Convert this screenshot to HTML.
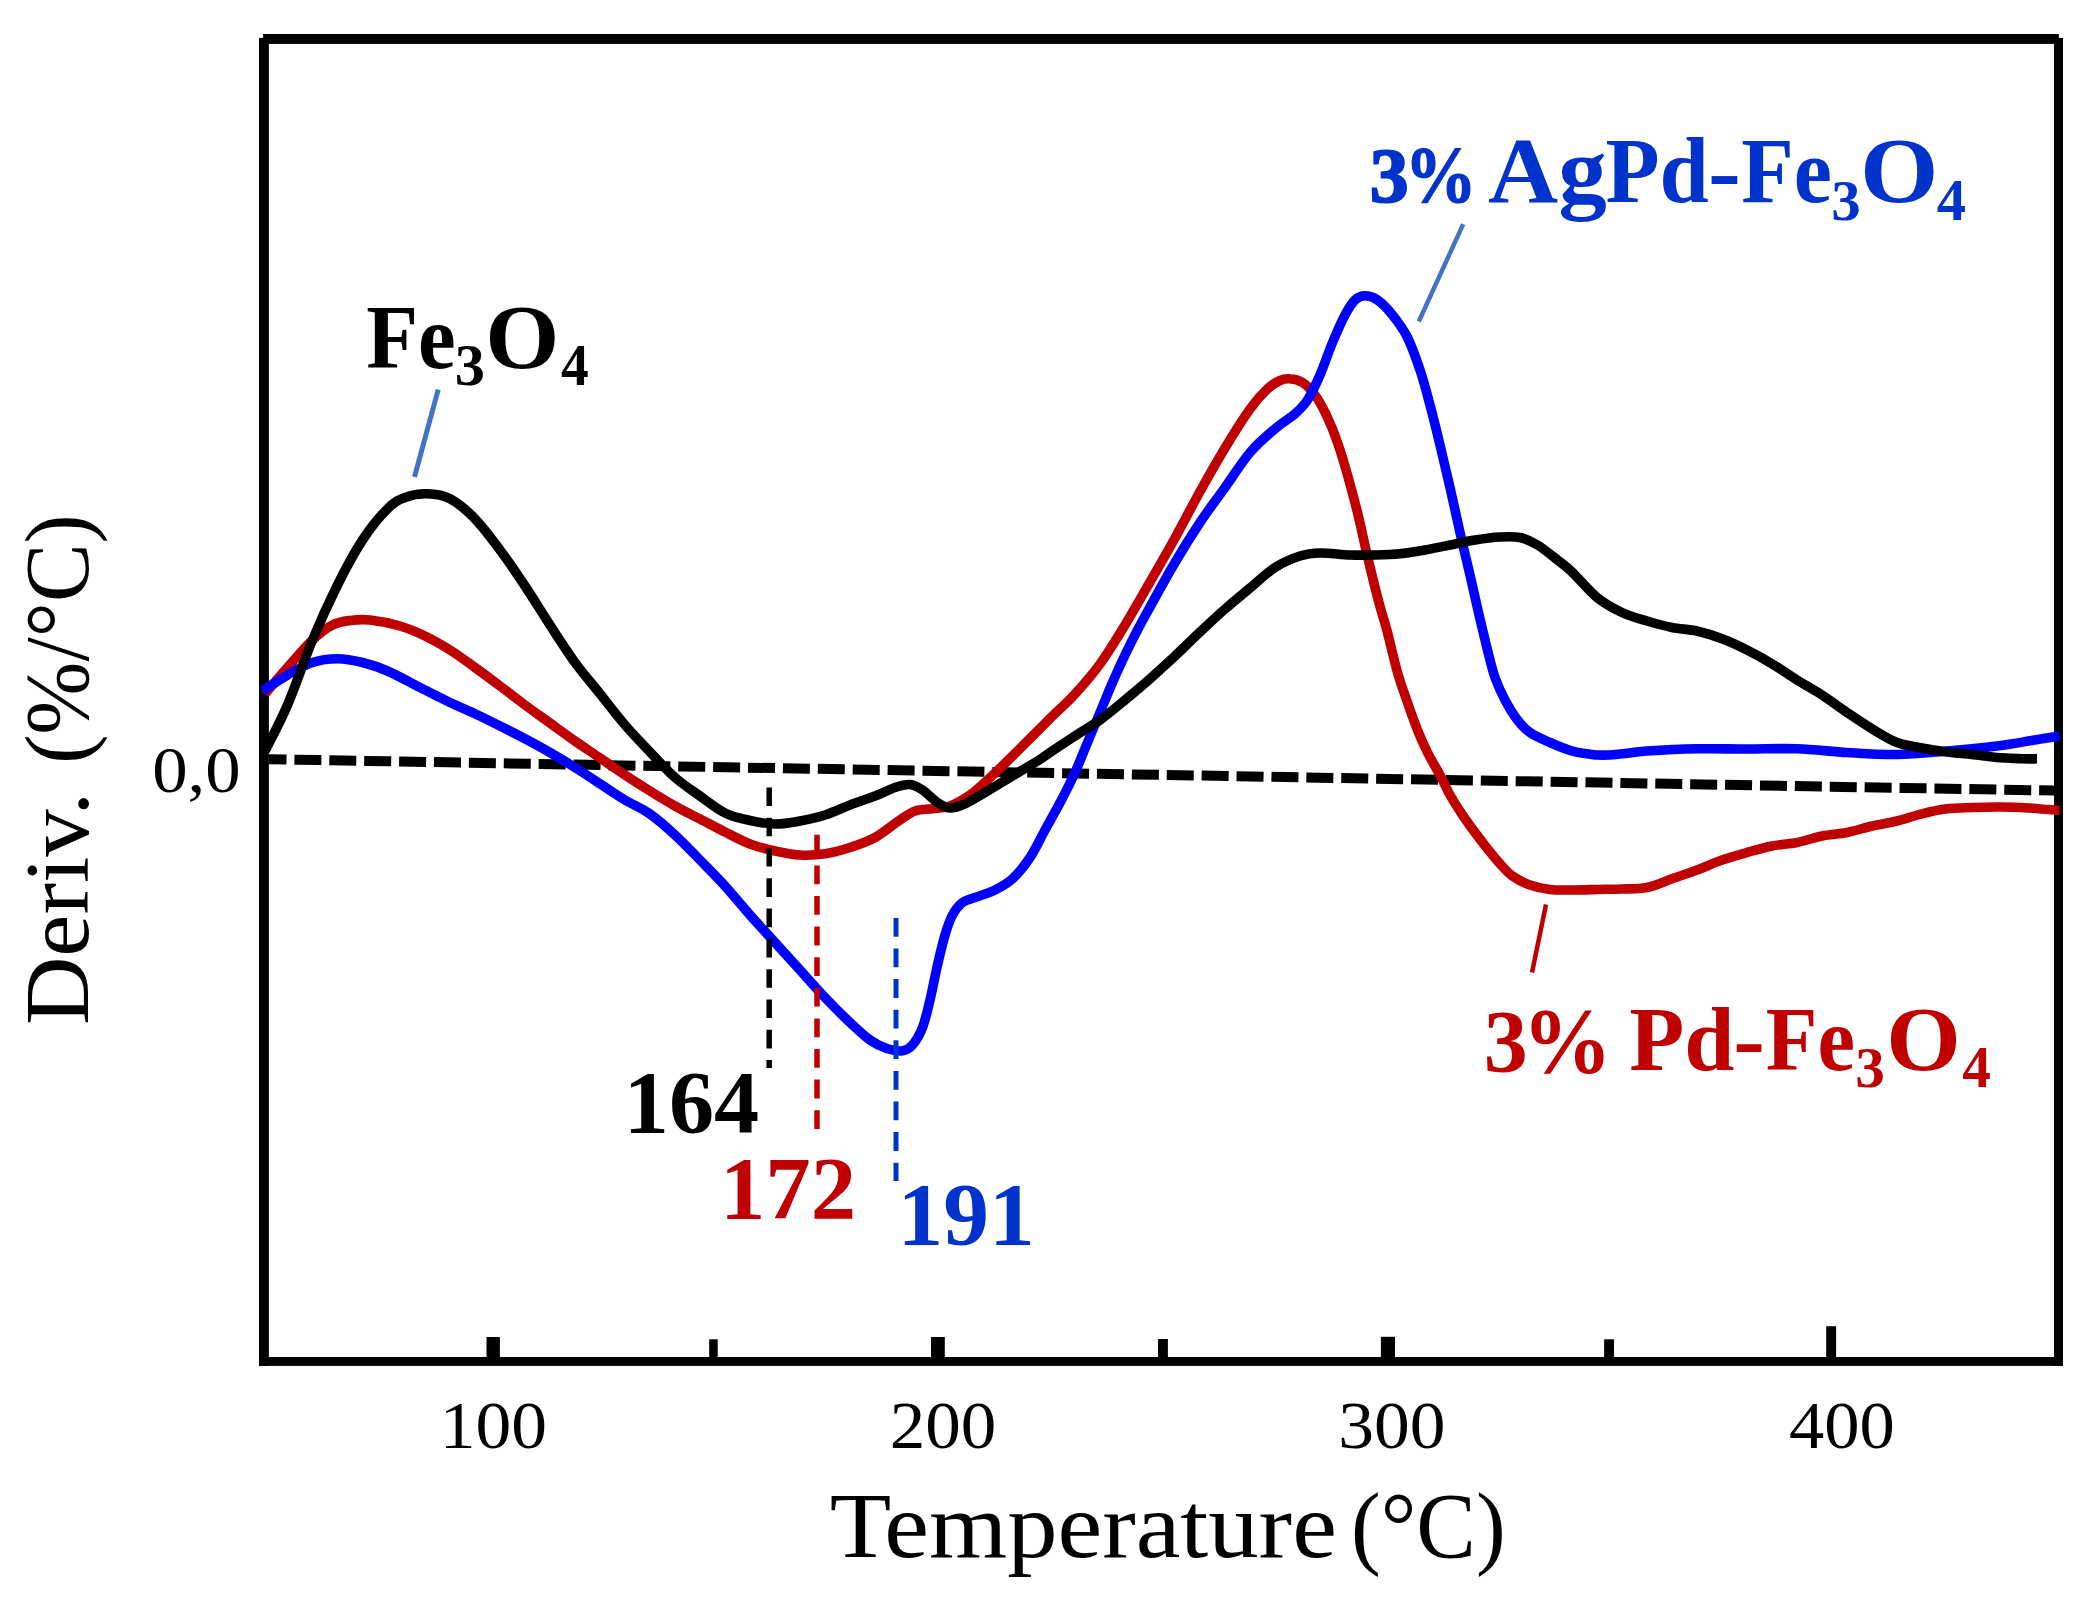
<!DOCTYPE html>
<html lang="en"><head><meta charset="utf-8"><title>DTG curves</title>
<style>
html,body{margin:0;padding:0;background:#fff;overflow:hidden}
svg{display:block}
text{font-family:"Liberation Serif",serif}
</style></head>
<body>
<svg width="2096" height="1605" viewBox="0 0 2096 1605">
<rect width="2096" height="1605" fill="#fff"/>
<g fill="#000"><rect x="263.1" y="34" width="1795.8" height="9.9"/><rect x="259" y="37.9" width="9.9" height="1328"/><rect x="2054" y="38" width="9" height="1327.8"/><rect x="259" y="1357" width="1804" height="8.9"/></g>
<path d="M268.9,759.2 L2054,790.6" stroke="#000" stroke-width="10" stroke-dasharray="27 7.9" stroke-dashoffset="9.4" fill="none"/>
<path d="M265.0,693.8C268.8,689.4 279.6,676.5 287.5,667.5C295.4,658.5 305.0,647.1 312.5,640.0C320.0,632.9 326.2,628.2 332.5,625.0C338.8,621.8 343.8,621.3 350.0,620.5C356.2,619.7 361.7,619.1 370.0,620.0C378.3,620.9 390.8,623.3 400.0,626.0C409.2,628.7 416.7,632.0 425.0,636.0C433.3,640.0 441.7,644.8 450.0,650.0C458.3,655.2 466.7,661.5 475.0,667.5C483.3,673.5 491.7,679.8 500.0,686.0C508.3,692.2 516.7,698.8 525.0,705.0C533.3,711.2 541.7,717.0 550.0,723.0C558.3,729.0 566.7,735.2 575.0,741.0C583.3,746.8 591.7,752.3 600.0,758.0C608.3,763.7 616.7,769.5 625.0,775.0C633.3,780.5 641.7,785.8 650.0,791.0C658.3,796.2 666.7,801.3 675.0,806.0C683.3,810.7 691.7,814.7 700.0,819.0C708.3,823.3 716.7,827.8 725.0,832.0C733.3,836.2 741.7,840.8 750.0,844.0C758.3,847.2 766.7,849.2 775.0,851.0C783.3,852.8 791.7,854.5 800.0,855.0C808.3,855.5 816.7,855.0 825.0,853.8C833.3,852.5 841.7,850.2 850.0,847.5C858.3,844.8 866.7,842.1 875.0,837.5C883.3,832.9 893.3,824.4 900.0,820.0C906.7,815.6 909.6,812.9 915.0,811.0C920.4,809.1 926.7,809.6 932.5,808.8C938.3,807.9 943.8,808.3 950.0,806.0C956.2,803.7 963.8,799.3 970.0,795.0C976.2,790.7 980.4,786.5 987.5,780.0C994.6,773.5 1004.2,764.2 1012.5,756.0C1020.8,747.8 1031.2,737.2 1037.5,731.0C1043.8,724.8 1043.8,724.7 1050.0,718.5C1056.2,712.3 1066.7,703.1 1075.0,694.0C1083.3,684.9 1091.7,675.5 1100.0,664.0C1108.3,652.5 1116.7,638.7 1125.0,625.0C1133.3,611.3 1141.7,596.5 1150.0,582.0C1158.3,567.5 1166.7,553.1 1175.0,538.0C1183.3,522.9 1191.7,506.5 1200.0,491.5C1208.3,476.5 1216.7,461.8 1225.0,448.0C1233.3,434.2 1242.9,418.9 1250.0,409.0C1257.1,399.1 1262.5,393.5 1267.5,388.8C1272.5,384.0 1276.2,382.2 1280.0,380.5C1283.8,378.8 1286.2,378.4 1290.0,378.8C1293.8,379.1 1298.3,379.8 1302.5,382.5C1306.7,385.2 1310.8,389.2 1315.0,395.0C1319.2,400.8 1323.8,409.6 1327.5,417.5C1331.2,425.4 1334.2,432.9 1337.5,442.5C1340.8,452.1 1344.2,463.3 1347.5,475.0C1350.8,486.7 1354.4,500.0 1357.5,512.5C1360.6,525.0 1363.1,537.5 1366.0,550.0C1368.9,562.5 1372.5,577.5 1375.0,587.5C1377.5,597.5 1378.9,602.5 1381.0,610.0C1383.1,617.5 1384.8,622.1 1387.5,632.5C1390.2,642.9 1394.2,660.8 1397.5,672.5C1400.8,684.2 1404.2,692.9 1407.5,702.5C1410.8,712.1 1414.2,721.7 1417.5,730.0C1420.8,738.3 1423.8,745.0 1427.5,752.5C1431.2,760.0 1436.2,767.9 1440.0,775.0C1443.8,782.1 1446.2,788.3 1450.0,795.0C1453.8,801.7 1458.3,808.8 1462.5,815.0C1466.7,821.2 1470.8,826.9 1475.0,832.5C1479.2,838.1 1483.3,843.5 1487.5,848.8C1491.7,854.0 1495.8,859.2 1500.0,863.8C1504.2,868.3 1507.5,872.5 1512.5,876.0C1517.5,879.5 1523.8,882.8 1530.0,885.0C1536.2,887.2 1543.0,888.7 1550.0,889.5C1557.0,890.3 1564.2,890.0 1572.0,890.0C1579.8,890.0 1588.7,889.7 1597.0,889.5C1605.3,889.3 1613.7,889.3 1622.0,889.0C1630.3,888.7 1638.7,889.2 1647.0,887.5C1655.3,885.8 1663.7,881.7 1672.0,878.8C1680.3,875.8 1688.7,873.1 1697.0,870.0C1705.3,866.9 1713.7,862.9 1722.0,860.0C1730.3,857.1 1738.7,854.8 1747.0,852.5C1755.3,850.2 1763.7,847.7 1772.0,846.0C1780.3,844.3 1788.7,844.2 1797.0,842.5C1805.3,840.8 1813.7,837.7 1822.0,836.0C1830.3,834.3 1838.7,834.2 1847.0,832.5C1855.3,830.8 1863.7,827.9 1872.0,826.0C1880.3,824.1 1888.7,823.0 1897.0,821.0C1905.3,819.0 1913.7,815.8 1922.0,813.8C1930.3,811.7 1938.7,809.8 1947.0,808.8C1955.3,807.7 1963.7,807.8 1972.0,807.5C1980.3,807.2 1988.7,807.0 1997.0,807.0C2005.3,807.0 2011.6,806.9 2022.0,807.5C2032.4,808.1 2053.2,810.0 2059.5,810.5" stroke="#C00000" stroke-width="9.6" fill="none" stroke-linejoin="round" stroke-linecap="butt"/>
<path d="M262.5,691.0C266.7,688.3 279.2,679.8 287.5,675.0C295.8,670.2 304.2,665.2 312.5,662.5C320.8,659.8 329.2,658.8 337.5,658.8C345.8,658.8 354.2,660.5 362.5,662.5C370.8,664.5 377.1,666.4 387.5,671.0C397.9,675.6 414.6,684.8 425.0,690.0C435.4,695.2 441.7,698.5 450.0,702.5C458.3,706.5 466.7,709.8 475.0,713.8C483.3,717.7 491.7,721.8 500.0,726.0C508.3,730.2 516.7,734.3 525.0,738.8C533.3,743.2 541.7,747.7 550.0,752.5C558.3,757.3 566.7,762.3 575.0,767.5C583.3,772.7 591.7,778.3 600.0,783.8C608.3,789.2 616.7,795.0 625.0,800.0C633.3,805.0 641.7,808.2 650.0,814.0C658.3,819.8 666.7,827.3 675.0,835.0C683.3,842.7 691.7,851.5 700.0,860.0C708.3,868.5 716.7,876.8 725.0,886.0C733.3,895.2 741.7,905.6 750.0,915.0C758.3,924.4 766.7,933.3 775.0,942.5C783.3,951.7 791.7,960.8 800.0,970.0C808.3,979.2 816.7,988.8 825.0,997.5C833.3,1006.2 842.5,1015.4 850.0,1022.5C857.5,1029.6 863.8,1035.6 870.0,1040.0C876.2,1044.4 882.1,1047.0 887.5,1048.8C892.9,1050.5 898.3,1051.4 902.5,1050.8C906.7,1050.1 909.2,1048.9 912.5,1045.0C915.8,1041.1 919.6,1035.0 922.5,1027.5C925.4,1020.0 927.5,1010.4 930.0,1000.0C932.5,989.6 935.0,975.8 937.5,965.0C940.0,954.2 942.5,943.3 945.0,935.0C947.5,926.7 949.6,920.4 952.5,915.0C955.4,909.6 958.8,905.4 962.5,902.5C966.2,899.6 969.6,899.6 975.0,897.5C980.4,895.4 988.8,893.1 995.0,890.0C1001.2,886.9 1006.7,884.2 1012.5,878.8C1018.3,873.3 1024.6,865.6 1030.0,857.5C1035.4,849.4 1039.6,839.9 1045.0,830.0C1050.4,820.1 1057.5,807.6 1062.5,798.0C1067.5,788.4 1070.8,781.8 1075.0,772.5C1079.2,763.2 1083.3,752.5 1087.5,742.5C1091.7,732.5 1095.8,722.5 1100.0,712.5C1104.2,702.5 1108.3,692.1 1112.5,682.5C1116.7,672.9 1120.8,663.8 1125.0,655.0C1129.2,646.2 1133.3,638.0 1137.5,630.0C1141.7,622.0 1143.8,618.2 1150.0,607.0C1156.2,595.8 1166.7,576.6 1175.0,562.5C1183.3,548.4 1191.7,535.0 1200.0,522.5C1208.3,510.0 1216.7,499.2 1225.0,487.5C1233.3,475.8 1241.7,462.3 1250.0,452.5C1258.3,442.7 1267.5,435.2 1275.0,428.8C1282.5,422.3 1289.6,418.5 1295.0,413.8C1300.4,409.0 1303.3,406.5 1307.5,400.0C1311.7,393.5 1315.8,384.6 1320.0,375.0C1324.2,365.4 1328.3,352.5 1332.5,342.5C1336.7,332.5 1341.2,322.1 1345.0,315.0C1348.8,307.9 1351.7,303.2 1355.0,300.0C1358.3,296.8 1361.2,295.8 1365.0,295.8C1368.8,295.8 1372.9,296.8 1377.5,300.0C1382.1,303.2 1387.5,308.8 1392.5,315.0C1397.5,321.2 1402.9,328.3 1407.5,337.5C1412.1,346.7 1416.2,358.8 1420.0,370.0C1423.8,381.2 1426.7,392.5 1430.0,405.0C1433.3,417.5 1436.7,431.2 1440.0,445.0C1443.3,458.8 1446.7,472.9 1450.0,487.5C1453.3,502.1 1456.7,517.9 1460.0,532.5C1463.3,547.1 1467.2,562.8 1470.0,575.0C1472.8,587.2 1474.1,593.5 1477.0,606.0C1479.9,618.5 1484.5,638.1 1487.5,650.0C1490.5,661.9 1492.1,669.2 1495.0,677.5C1497.9,685.8 1501.2,692.9 1505.0,700.0C1508.8,707.1 1513.3,714.6 1517.5,720.0C1521.7,725.4 1524.6,728.8 1530.0,732.5C1535.4,736.2 1543.0,739.4 1550.0,742.5C1557.0,745.6 1566.2,749.2 1572.0,751.0C1577.8,752.8 1580.8,752.8 1585.0,753.5C1589.2,754.2 1592.9,754.8 1597.0,755.0C1601.1,755.2 1604.8,755.2 1609.5,755.0C1614.2,754.8 1618.8,754.3 1625.0,753.6C1631.2,752.9 1635.0,751.8 1647.0,751.0C1659.0,750.2 1680.3,749.1 1697.0,748.8C1713.7,748.4 1730.3,749.0 1747.0,749.0C1763.7,749.0 1780.3,748.2 1797.0,748.8C1813.7,749.3 1830.3,751.5 1847.0,752.5C1863.7,753.5 1880.3,754.8 1897.0,754.5C1913.7,754.2 1930.3,752.4 1947.0,751.0C1963.7,749.6 1982.4,747.8 1997.0,746.0C2011.6,744.2 2024.1,741.7 2034.5,740.0C2044.9,738.3 2055.3,736.7 2059.5,736.0" stroke="#0000FF" stroke-width="9.6" fill="none" stroke-linejoin="round" stroke-linecap="butt"/>
<path d="M265.0,751.0C268.8,743.3 279.6,723.5 287.5,705.0C295.4,686.5 304.2,660.0 312.5,640.0C320.8,620.0 329.2,601.7 337.5,585.0C345.8,568.3 354.2,552.7 362.5,540.0C370.8,527.3 380.4,515.8 387.5,508.8C394.6,501.7 398.3,500.0 405.0,497.5C411.7,495.0 420.0,493.5 427.5,493.8C435.0,494.0 442.1,494.6 450.0,498.8C457.9,502.9 466.7,510.2 475.0,518.8C483.3,527.3 491.7,538.8 500.0,550.0C508.3,561.2 516.7,573.5 525.0,586.0C533.3,598.5 541.7,612.2 550.0,625.0C558.3,637.8 566.7,651.0 575.0,662.5C583.3,674.0 591.7,683.3 600.0,693.8C608.3,704.2 616.7,715.3 625.0,725.0C633.3,734.7 641.7,743.2 650.0,752.0C658.3,760.8 666.7,770.2 675.0,777.5C683.3,784.8 691.7,790.1 700.0,796.0C708.3,801.9 716.7,808.9 725.0,813.0C733.3,817.1 741.7,818.7 750.0,820.5C758.3,822.3 766.7,823.9 775.0,824.0C783.3,824.1 791.7,822.5 800.0,821.0C808.3,819.5 816.7,817.7 825.0,815.0C833.3,812.3 841.7,808.2 850.0,805.0C858.3,801.8 867.5,798.9 875.0,796.0C882.5,793.1 889.2,789.4 895.0,787.5C900.8,785.6 905.4,784.1 910.0,784.5C914.6,784.9 917.9,787.0 922.5,790.0C927.1,793.0 932.9,799.5 937.5,802.5C942.1,805.5 945.4,807.8 950.0,808.0C954.6,808.2 958.8,806.6 965.0,803.8C971.2,800.9 979.6,795.6 987.5,791.0C995.4,786.4 1004.2,781.0 1012.5,776.0C1020.8,771.0 1031.2,764.9 1037.5,761.0C1043.8,757.1 1043.8,756.7 1050.0,752.5C1056.2,748.3 1066.7,741.4 1075.0,736.0C1083.3,730.6 1091.7,726.0 1100.0,720.0C1108.3,714.0 1116.7,706.9 1125.0,700.0C1133.3,693.1 1141.7,686.1 1150.0,678.8C1158.3,671.4 1166.7,663.8 1175.0,656.0C1183.3,648.2 1191.7,639.8 1200.0,632.0C1208.3,624.2 1216.7,616.3 1225.0,609.0C1233.3,601.7 1241.7,594.9 1250.0,588.0C1258.3,581.1 1266.7,572.8 1275.0,567.5C1283.3,562.2 1292.5,558.4 1300.0,556.0C1307.5,553.6 1311.7,553.2 1320.0,553.0C1328.3,552.8 1340.8,554.7 1350.0,555.0C1359.2,555.3 1366.7,555.2 1375.0,555.0C1383.3,554.8 1391.7,554.6 1400.0,553.8C1408.3,552.9 1416.7,551.5 1425.0,550.0C1433.3,548.5 1441.7,546.7 1450.0,545.0C1458.3,543.3 1466.7,541.3 1475.0,540.0C1483.3,538.7 1492.5,537.4 1500.0,537.0C1507.5,536.6 1513.8,536.2 1520.0,537.5C1526.2,538.8 1531.2,541.2 1537.5,545.0C1543.8,548.8 1551.8,555.5 1557.5,560.0C1563.2,564.5 1565.4,565.8 1572.0,572.0C1578.6,578.2 1588.7,590.8 1597.0,597.5C1605.3,604.2 1613.7,608.6 1622.0,612.5C1630.3,616.4 1638.7,618.5 1647.0,621.0C1655.3,623.5 1663.7,625.8 1672.0,627.5C1680.3,629.2 1688.7,629.1 1697.0,631.0C1705.3,632.9 1713.7,635.6 1722.0,638.8C1730.3,641.9 1738.7,645.8 1747.0,650.0C1755.3,654.2 1763.7,658.8 1772.0,663.8C1780.3,668.8 1788.7,674.8 1797.0,680.0C1805.3,685.2 1813.7,689.6 1822.0,695.0C1830.3,700.4 1838.7,706.9 1847.0,712.5C1855.3,718.1 1863.7,723.8 1872.0,728.8C1880.3,733.8 1888.7,739.3 1897.0,742.5C1905.3,745.7 1913.7,746.4 1922.0,748.0C1930.3,749.6 1938.7,750.9 1947.0,752.0C1955.3,753.1 1963.7,753.6 1972.0,754.5C1980.3,755.4 1988.7,756.8 1997.0,757.5C2005.3,758.2 2015.3,758.5 2022.0,758.8C2028.7,759.0 2034.5,758.8 2037.0,758.8" stroke="#000" stroke-width="9.6" fill="none" stroke-linejoin="round" stroke-linecap="butt"/>
<path d="M769.2,787.4 V1068" stroke="#000" stroke-width="5.5" stroke-dasharray="18.6 11.7" fill="none"/>
<path d="M817,834.8 V1129" stroke="#C00000" stroke-width="5.5" stroke-dasharray="18.8 11.8" fill="none"/>
<path d="M896,917.9 V1181" stroke="#0033CC" stroke-width="5" stroke-dasharray="18.8 11.8" fill="none"/>
<path d="M438.2,389.6 L414.5,477" stroke="#4472C4" stroke-width="5" fill="none"/>
<path d="M1463.2,224.1 L1418.8,321.5" stroke="#4472C4" stroke-width="4.5" fill="none"/>
<path d="M1546,904.5 L1532,972.5" stroke="#C00000" stroke-width="4.5" fill="none"/>
<rect x="486.5" y="1337" width="13.4" height="21.0" fill="#000"/>
<rect x="709.2" y="1339.3" width="8.5" height="18.7" fill="#000"/>
<rect x="931" y="1337" width="13.8" height="21.0" fill="#000"/>
<rect x="1158" y="1339" width="9.9" height="19.0" fill="#000"/>
<rect x="1380.9" y="1336.8" width="14.1" height="21.2" fill="#000"/>
<rect x="1604.1" y="1339.3" width="9.9" height="18.7" fill="#000"/>
<rect x="1826.2" y="1326.2" width="9.9" height="31.8" fill="#000"/>
<text x="439.74" y="1447.6" font-size="68.6" font-weight="normal" fill="#000" textLength="107.27" lengthAdjust="spacingAndGlyphs">100</text>
<text x="889.69" y="1447.6" font-size="68.6" font-weight="normal" fill="#000" textLength="106.60" lengthAdjust="spacingAndGlyphs">200</text>
<text x="1338.27" y="1447.6" font-size="68.6" font-weight="normal" fill="#000" textLength="107.24" lengthAdjust="spacingAndGlyphs">300</text>
<text x="1788.97" y="1447.6" font-size="68.6" font-weight="normal" fill="#000" textLength="105.80" lengthAdjust="spacingAndGlyphs">400</text>
<text x="152.20" y="791.5" font-size="66.5" font-weight="normal" fill="#000" textLength="88.56" lengthAdjust="spacingAndGlyphs">0,0</text>
<text x="623.80" y="1132.1" font-size="89" font-weight="bold" fill="#000" textLength="135.32" lengthAdjust="spacingAndGlyphs">164</text>
<text x="719.96" y="1218.2" font-size="89" font-weight="bold" fill="#C00000" textLength="136.21" lengthAdjust="spacingAndGlyphs">172</text>
<text x="897.40" y="1244.3" font-size="89" font-weight="bold" fill="#0033CC" textLength="137.33" lengthAdjust="spacingAndGlyphs">191</text>
<text xml:space="preserve"><tspan x="829.85" y="1556.6" font-size="93.6" font-weight="normal" fill="#000" textLength="506.96" lengthAdjust="spacingAndGlyphs">Temperature</tspan> <tspan x="1350.99" y="1556.6" font-size="93.6" font-weight="normal" fill="#000" textLength="154.62" lengthAdjust="spacingAndGlyphs">(°C)</tspan></text>
<text transform="translate(87.8,1022) rotate(-90)" xml:space="preserve"><tspan x="-3.13" y="0" font-size="91" font-weight="normal" fill="#000" textLength="233.43" lengthAdjust="spacingAndGlyphs">Deriv.</tspan> <tspan x="258.14" y="0" font-size="91" font-weight="normal" fill="#000" textLength="249.50" lengthAdjust="spacingAndGlyphs">(%/°C)</tspan></text>
<text xml:space="preserve"><tspan x="366.15" y="368.1" font-size="91.6" font-weight="bold" fill="#000" textLength="89.47" lengthAdjust="spacingAndGlyphs">Fe</tspan><tspan x="454.74" y="385.4" font-size="58.6" font-weight="bold" fill="#000" textLength="30.23" lengthAdjust="spacingAndGlyphs">3</tspan><tspan x="485.30" y="368.1" font-size="91.6" font-weight="bold" fill="#000" textLength="74.12" lengthAdjust="spacingAndGlyphs">O</tspan><tspan x="560.97" y="385.3" font-size="59.5" font-weight="bold" fill="#000" textLength="27.73" lengthAdjust="spacingAndGlyphs">4</tspan></text>
<text xml:space="preserve"><tspan x="1369.72" y="201.6" font-size="78.5" font-weight="bold" fill="#0033CC" stroke="#0033CC" stroke-width="2" textLength="38.92" lengthAdjust="spacingAndGlyphs">3</tspan><tspan x="1404.85" y="201.8" font-size="80.5" font-weight="bold" fill="#0033CC" stroke="#0033CC" stroke-width="1.2" textLength="71.96" lengthAdjust="spacingAndGlyphs">%</tspan> <tspan x="1487.97" y="202" font-size="94" font-weight="bold" fill="#0033CC" textLength="118.75" lengthAdjust="spacingAndGlyphs">Ag</tspan><tspan x="1605.52" y="202" font-size="94" font-weight="bold" fill="#0033CC" textLength="103.35" lengthAdjust="spacingAndGlyphs">Pd</tspan><tspan x="1708.14" y="202" font-size="94" font-weight="bold" fill="#0033CC" textLength="32.94" lengthAdjust="spacingAndGlyphs">-</tspan><tspan x="1741.37" y="202" font-size="94" font-weight="bold" fill="#0033CC" textLength="90.58" lengthAdjust="spacingAndGlyphs">Fe</tspan><tspan x="1831.17" y="220.4" font-size="58" font-weight="bold" fill="#0033CC" textLength="29.46" lengthAdjust="spacingAndGlyphs">3</tspan><tspan x="1860.03" y="202" font-size="94" font-weight="bold" fill="#0033CC" textLength="78.46" lengthAdjust="spacingAndGlyphs">O</tspan><tspan x="1936.70" y="220.1" font-size="58.5" font-weight="bold" fill="#0033CC" textLength="29.25" lengthAdjust="spacingAndGlyphs">4</tspan></text>
<text xml:space="preserve"><tspan x="1483.85" y="1071.2" font-size="89.5" font-weight="bold" fill="#C00000" textLength="43.95" lengthAdjust="spacingAndGlyphs">3</tspan><tspan x="1522.36" y="1071.5" font-size="93" font-weight="bold" fill="#C00000" textLength="89.61" lengthAdjust="spacingAndGlyphs">%</tspan> <tspan x="1629.23" y="1069.9" font-size="91.6" font-weight="bold" fill="#C00000" textLength="105.25" lengthAdjust="spacingAndGlyphs">Pd</tspan><tspan x="1733.29" y="1069.9" font-size="91.6" font-weight="bold" fill="#C00000" textLength="31.66" lengthAdjust="spacingAndGlyphs">-</tspan><tspan x="1765.85" y="1069.9" font-size="91.6" font-weight="bold" fill="#C00000" textLength="89.15" lengthAdjust="spacingAndGlyphs">Fe</tspan><tspan x="1855.24" y="1087.3" font-size="57.6" font-weight="bold" fill="#C00000" textLength="29.60" lengthAdjust="spacingAndGlyphs">3</tspan><tspan x="1886.27" y="1069.9" font-size="91.6" font-weight="bold" fill="#C00000" textLength="74.58" lengthAdjust="spacingAndGlyphs">O</tspan><tspan x="1962.33" y="1086.5" font-size="58.8" font-weight="bold" fill="#C00000" textLength="28.64" lengthAdjust="spacingAndGlyphs">4</tspan></text>
</svg>
</body></html>
